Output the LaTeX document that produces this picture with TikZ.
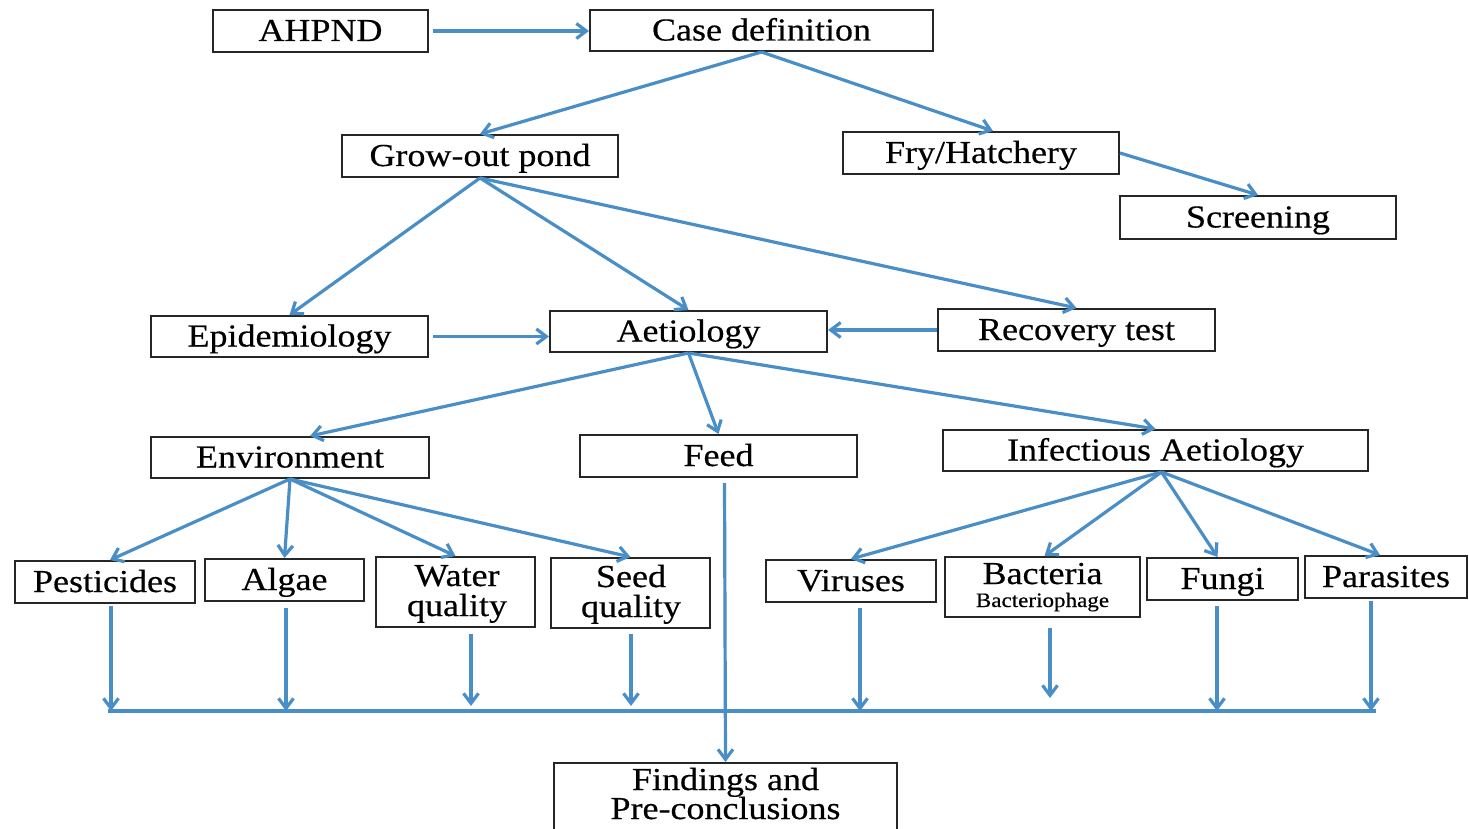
\documentclass[tikz,border=0pt]{standalone}
\usepackage{fontspec}
\setmainfont{Liberation Serif}[FakeStretch=1.125,FakeBold=0.4]
\usetikzlibrary{arrows.meta,calc}
\definecolor{arrowblue}{RGB}{74,142,200}
\begin{document}
\begin{tikzpicture}[x=1pt,y=-1pt,
  box/.style={draw=black!85,line width=2pt,inner sep=0pt,fill=white,
    font=\fontsize{32}{27}\selectfont,text height=23pt,text depth=3pt},
  emptybox/.style={draw=black!85,line width=2pt,inner sep=0pt,fill=white},
  txt/.style={inner sep=0pt,anchor=base,font=\fontsize{32}{27}\selectfont},
  smalltxt/.style={inner sep=0pt,anchor=base,font=\fontsize{20.5}{22}\selectfont},
  arr/.style={draw=arrowblue,line width=3.2pt,-{Straight Barb[length=10pt,width=15pt]}},
  barline/.style={draw=arrowblue,line width=3.2pt}]
\useasboundingbox (0,0) rectangle (1469,829);
\clip (0,0) rectangle (1469,829);
% boxes
\node[box,minimum width=215,minimum height=42] (ahpnd) at (320.5,31) {AHPND};
\node[box,minimum width=343,minimum height=41] (case) at (761.5,30.5) {Case definition};
\node[box,minimum width=276,minimum height=42] (grow) at (480,156) {Grow-out pond};
\node[box,minimum width=276,minimum height=42] (fry) at (981,153) {Fry/Hatchery};
\node[box,minimum width=276,minimum height=43] (scr) at (1258,217.5) {Screening};
\node[box,minimum width=277,minimum height=41] (epi) at (289.5,336.5) {Epidemiology};
\node[box,minimum width=277,minimum height=41] (aet) at (688.5,331.5) {Aetiology};
\node[box,minimum width=277,minimum height=42] (rec) at (1076.5,330) {Recovery test};
\node[box,minimum width=278,minimum height=41] (env) at (290,457.5) {Environment};
\node[box,minimum width=277,minimum height=42] (feed) at (718.5,456) {Feed};
\node[box,minimum width=425,minimum height=41] (inf) at (1155.5,450.5) {Infectious Aetiology};
\node[box,minimum width=180,minimum height=42] (pest) at (105,582) {Pesticides};
\node[box,minimum width=159,minimum height=42] (algae) at (284.5,580) {Algae};
\node[emptybox,minimum width=159,minimum height=70] (water) at (455.5,592) {};
\node[txt] (watera) at (457,586) {Water};
\node[txt] (waterb) at (457,616) {quality};
\node[emptybox,minimum width=159,minimum height=70] (seed) at (630.5,593) {};
\node[txt] (seeda) at (631,587) {Seed};
\node[txt] (seedb) at (631,617) {quality};
\node[box,minimum width=170,minimum height=42] (vir) at (851,581) {Viruses};
\node[emptybox,minimum width=195,minimum height=60] (bac) at (1042.5,587) {};
\node[txt] (bact) at (1042.5,584) {Bacteria};
\node[smalltxt] (bacp) at (1042.5,607) {Bacteriophage};
\node[box,minimum width=151,minimum height=42] (fungi) at (1222.5,579) {Fungi};
\node[box,minimum width=162,minimum height=42] (par) at (1386,577) {Parasites};
\node[emptybox,minimum width=343,minimum height=90,anchor=north] (find) at (725.5,762) {};
\node[txt] (finda) at (725.5,790) {Findings and};
\node[txt] (findb) at (725.5,819) {Pre-conclusions};
% top-level arrows
\draw[arr,shorten <=4pt] (ahpnd.east) -- (case.west |- ahpnd.east);
\draw[arr] (case.south) -- (grow.north);
\draw[arr] (case.south) -- ($(fry.north)+(12,0)$);
\draw[arr] (fry.east) -- (scr.north);
\draw[arr] (grow.south) -- (epi.north);
\draw[arr] (grow.south) -- (aet.north);
\draw[arr] (grow.south) -- (rec.north);
\draw[arr,shorten <=4pt] (epi.east) -- (aet.west |- epi.east);
\draw[arr] (rec.west) -- (aet.east |- rec.west);
\draw[arr] (aet.south) -- ($(env.north)+(20,0)$);
\draw[arr] (aet.south) -- (feed.north);
\draw[arr] (aet.south) -- (inf.north);
\draw[arr] (env.south) -- ($(pest.north)+(5,0)$);
\draw[arr] (env.south) -- (algae.north);
\draw[arr] (env.south) -- (water.north);
\draw[arr] (env.south) -- (seed.north);
\draw[arr] ($(inf.south)+(6,0)$) -- (vir.north);
\draw[arr] ($(inf.south)+(6,0)$) -- ($(bac.north)+(2,0)$);
\draw[arr] ($(inf.south)+(6,0)$) -- ($(fungi.north)+(-5,0)$);
\draw[arr] ($(inf.south)+(6,0)$) -- ($(par.north)+(-6,0)$);
% collecting bar
\coordinate (barL) at (108,711);
\coordinate (barR) at (1376,711);
\draw[barline] (barL) -- (barR);
\path ($(pest.south)+(6,2)$) coordinate (p1);
\path ($(algae.south)+(1.5,6)$) coordinate (p2);
\path ($(water.south)+(15.5,6)$) coordinate (p3);
\path ($(seed.south)+(0.5,5)$) coordinate (p4);
\path ($(vir.south)+(9,5)$) coordinate (p5);
\path ($(bac.south)+(7.5,10)$) coordinate (p6);
\path ($(fungi.south)+(-5.5,5)$) coordinate (p7);
\path ($(par.south)+(-15,2)$) coordinate (p8);
\draw[arr] (p1) -- (p1 |- barL);
\draw[arr] (p2) -- (p2 |- barL);
\draw[arr] (p3) -- ++(0,72);
\draw[arr] (p4) -- ++(0,72);
\draw[arr] (p5) -- (p5 |- barL);
\draw[arr] (p6) -- ++(0,70);
\draw[arr] (p7) -- (p7 |- barL);
\draw[arr] (p8) -- (p8 |- barL);
% feed to findings
\draw[arr] ($(feed.south)+(6,5)$) -- (find.north);
\end{tikzpicture}
\end{document}
